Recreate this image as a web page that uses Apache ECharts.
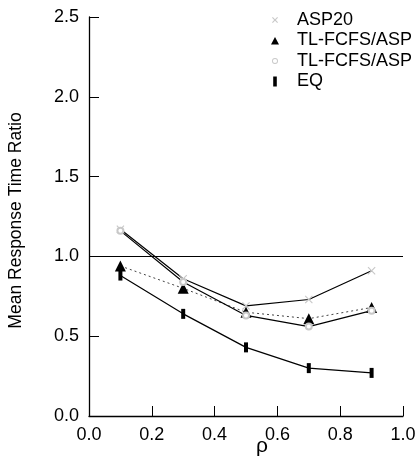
<!DOCTYPE html>
<html>
<head>
<meta charset="utf-8">
<script src="https://cdn.jsdelivr.net/npm/echarts@6/dist/echarts.min.js"></script>
<style>
  html, body { margin: 0; padding: 0; background: #fff; }
  #chart { width: 419px; height: 461px; }
</style>
</head>
<body>
<div id="chart"></div>
<script>
var rho = [0.1, 0.3, 0.5, 0.7, 0.9];
var asp20 = [1.17, 0.86, 0.69, 0.73, 0.91];
var tlTriangle = [0.94, 0.80, 0.65, 0.61, 0.68];
var tlCircle = [1.16, 0.84, 0.63, 0.56, 0.66];
var eq = [0.88, 0.64, 0.43, 0.30, 0.27];
var refLine = 1.0;

function pairs(xs, ys) {
    return xs.map(function (x, i) { return [x, ys[i]]; });
}

var font = 'Liberation Sans, Arial, sans-serif';
var crossPath = 'path://M0,1L1,0L5,4L9,0L10,1L6,5L10,9L9,10L5,6L1,10L0,9L4,5Z';
var barPath = 'path://M0,0L4,0L4,10L0,10Z';

// legend icons padded inside a 10x10 box so they keep their small size
var legCross = 'path://M0,0M10,10M2,2.8L2.8,2L5,4.2L7.2,2L8,2.8L5.8,5L8,7.2L7.2,8L5,5.8L2.8,8L2,7.2L4.2,5Z';
var legTriangle = 'path://M0,0M10,10M1,9L5,1.5L9,9Z';
var legCircle = 'path://M0,0M10,10M2,5A3,3 0 1,0 8,5A3,3 0 1,0 2,5ZM2.9,5A2.1,2.1 0 1,1 7.1,5A2.1,2.1 0 1,1 2.9,5Z';
var legBar = 'path://M0,0M10,10M3.2,0L6.8,0L6.8,10L3.2,10Z';

var myChart = echarts.init(document.getElementById('chart'));

var option = {
    backgroundColor: '#fff',
    animation: false,
    grid: { left: 89, right: 16, top: 17, bottom: 45, outerBoundsMode: 'none' },
    legend: {
        orient: 'vertical',
        left: 265,
        top: 6,
        itemWidth: 10,
        itemHeight: 10,
        itemGap: 2.5,
        symbolKeepAspect: true,
        textStyle: { fontFamily: font, fontSize: 18, color: '#000', padding: [0, 0, 0, 12] },
        data: [
            { name: 'ASP20', icon: legCross },
            { name: 'TL-FCFS/ASP', icon: legTriangle },
            { name: 'TL-FCFS/ASP ', icon: legCircle },
            { name: 'EQ', icon: legBar }
        ]
    },
    xAxis: {
        type: 'value',
        min: 0,
        max: 1,
        interval: 0.2,
        name: 'ρ',
        nameLocation: 'middle',
        nameGap: 20,
        nameMoveOverlap: false,
        nameTextStyle: { fontFamily: font, fontSize: 21, color: '#000', padding: [0, 0, 0, 32] },
        axisLine: { lineStyle: { color: '#000', width: 1.3 } },
        axisTick: { inside: true, length: 10, lineStyle: { color: '#000' } },
        axisLabel: {
            fontFamily: font, fontSize: 18, color: '#000', margin: 10,
            formatter: function (v) { return v.toFixed(1); }
        },
        splitLine: { show: false }
    },
    yAxis: {
        type: 'value',
        min: 0,
        max: 2.5,
        interval: 0.5,
        name: 'Mean Response Time Ratio',
        nameLocation: 'middle',
        nameGap: 64,
        nameMoveOverlap: false,
        nameTextStyle: { fontFamily: font, fontSize: 17.5, color: '#000', padding: [0, 8, 0, 0] },
        axisLine: { lineStyle: { color: '#000', width: 1.3 } },
        axisTick: { inside: true, length: 10, lineStyle: { color: '#000' } },
        axisLabel: {
            fontFamily: font, fontSize: 18, color: '#000', margin: 10,
            formatter: function (v) { return v.toFixed(1); }
        },
        splitLine: { show: false }
    },
    series: [
        {
            name: 'ASP20',
            type: 'line',
            data: pairs(rho, asp20),
            symbol: crossPath,
            symbolSize: 8,
            itemStyle: { color: '#c8c8c8' },
            lineStyle: { color: '#000', width: 1.2 },
            markLine: {
                silent: true,
                symbol: 'none',
                label: { show: false },
                lineStyle: { color: '#000', width: 1, type: 'solid' },
                data: [{ yAxis: refLine }]
            }
        },
        {
            name: 'TL-FCFS/ASP',
            type: 'line',
            data: pairs(rho, tlTriangle),
            symbol: 'triangle',
            symbolSize: 11,
            itemStyle: { color: '#000' },
            lineStyle: { color: '#444', width: 1, type: [2, 3] },
            z: 3
        },
        {
            name: 'TL-FCFS/ASP ',
            type: 'line',
            data: pairs(rho, tlCircle),
            symbol: 'emptyCircle',
            symbolSize: 6,
            itemStyle: { color: '#c8c8c8', borderWidth: 1 },
            lineStyle: { color: '#000', width: 1.2 }
        },
        {
            name: 'EQ',
            type: 'line',
            data: pairs(rho, eq),
            symbol: barPath,
            symbolSize: [4, 10],
            itemStyle: { color: '#000' },
            lineStyle: { color: '#000', width: 1.2 }
        }
    ]
};

myChart.setOption(option);
</script>
</body>
</html>
